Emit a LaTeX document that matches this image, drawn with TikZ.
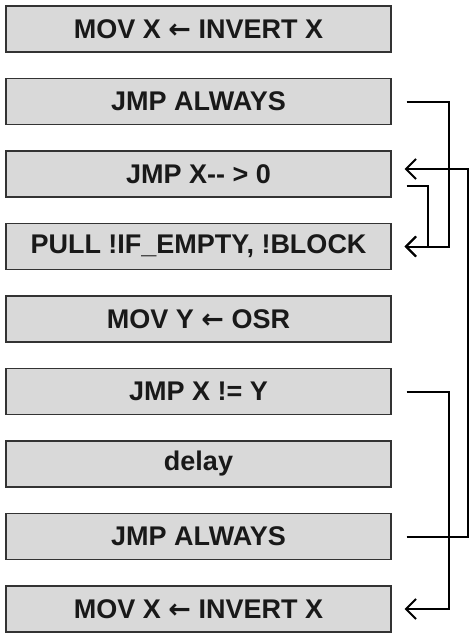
\documentclass[tikz,border=0pt]{standalone}
\usepackage{fontspec}
\setmainfont{Liberation Sans}
\newfontfamily\arrowfont{DejaVu Sans}
\newcommand{\larrow}{{\arrowfont\bfseries ←}}
\usepackage{tikz}
\usetikzlibrary{arrows.meta}

\begin{document}
\begin{tikzpicture}[x=1pt,y=-1pt,
        instr/.style={draw=black!80,line width=1.2pt,fill=black!15,minimum width=385pt,minimum height=46pt,inner sep=0pt,font=\bfseries\fontsize{27}{32}\selectfont,text=black!90},
        jump/.style={line width=2pt,-{Straight Barb[length=10pt,width=20pt,line width=2pt]}}]
        \useasboundingbox (0,0) rectangle (476,637);
        \node[instr] (mova) at (198.5,29) {MOV X \larrow{} INVERT X};
        \node[instr] (jmpa) at (198.5,101.5) {JMP ALWAYS};
        \node[instr] (jmpx) at (198.5,174) {JMP X\mbox{-}\mbox{-} > 0};
        \node[instr] (pull) at (198.5,246.5) {PULL !IF\_EMPTY, !BLOCK};
        \node[instr] (movy) at (198.5,319) {MOV Y \larrow{} OSR};
        \node[instr] (jmpne) at (198.5,391.5) {JMP X != Y};
        \node[instr] (dly) at (198.5,464) {delay};
        \node[instr] (jmpb) at (198.5,536.5) {JMP ALWAYS};
        \node[instr] (movb) at (198.5,609) {MOV X \larrow{} INVERT X};
        \draw[jump] ([xshift=15pt]jmpa.east) -- ++(42,0) |- ([xshift=13pt]pull.east);
        \draw[jump] ([xshift=15pt,yshift=-12pt]jmpx.east) -- ++(21,0) |- ([xshift=13pt]pull.east);
        \draw[jump] ([xshift=15pt]jmpb.east) -- ++(61,0) |- ([xshift=13pt,yshift=5pt]jmpx.east);
        \draw[jump] ([xshift=15pt]jmpne.east) -- ++(42,0) |- ([xshift=13pt]movb.east);
\end{tikzpicture}
\end{document}
